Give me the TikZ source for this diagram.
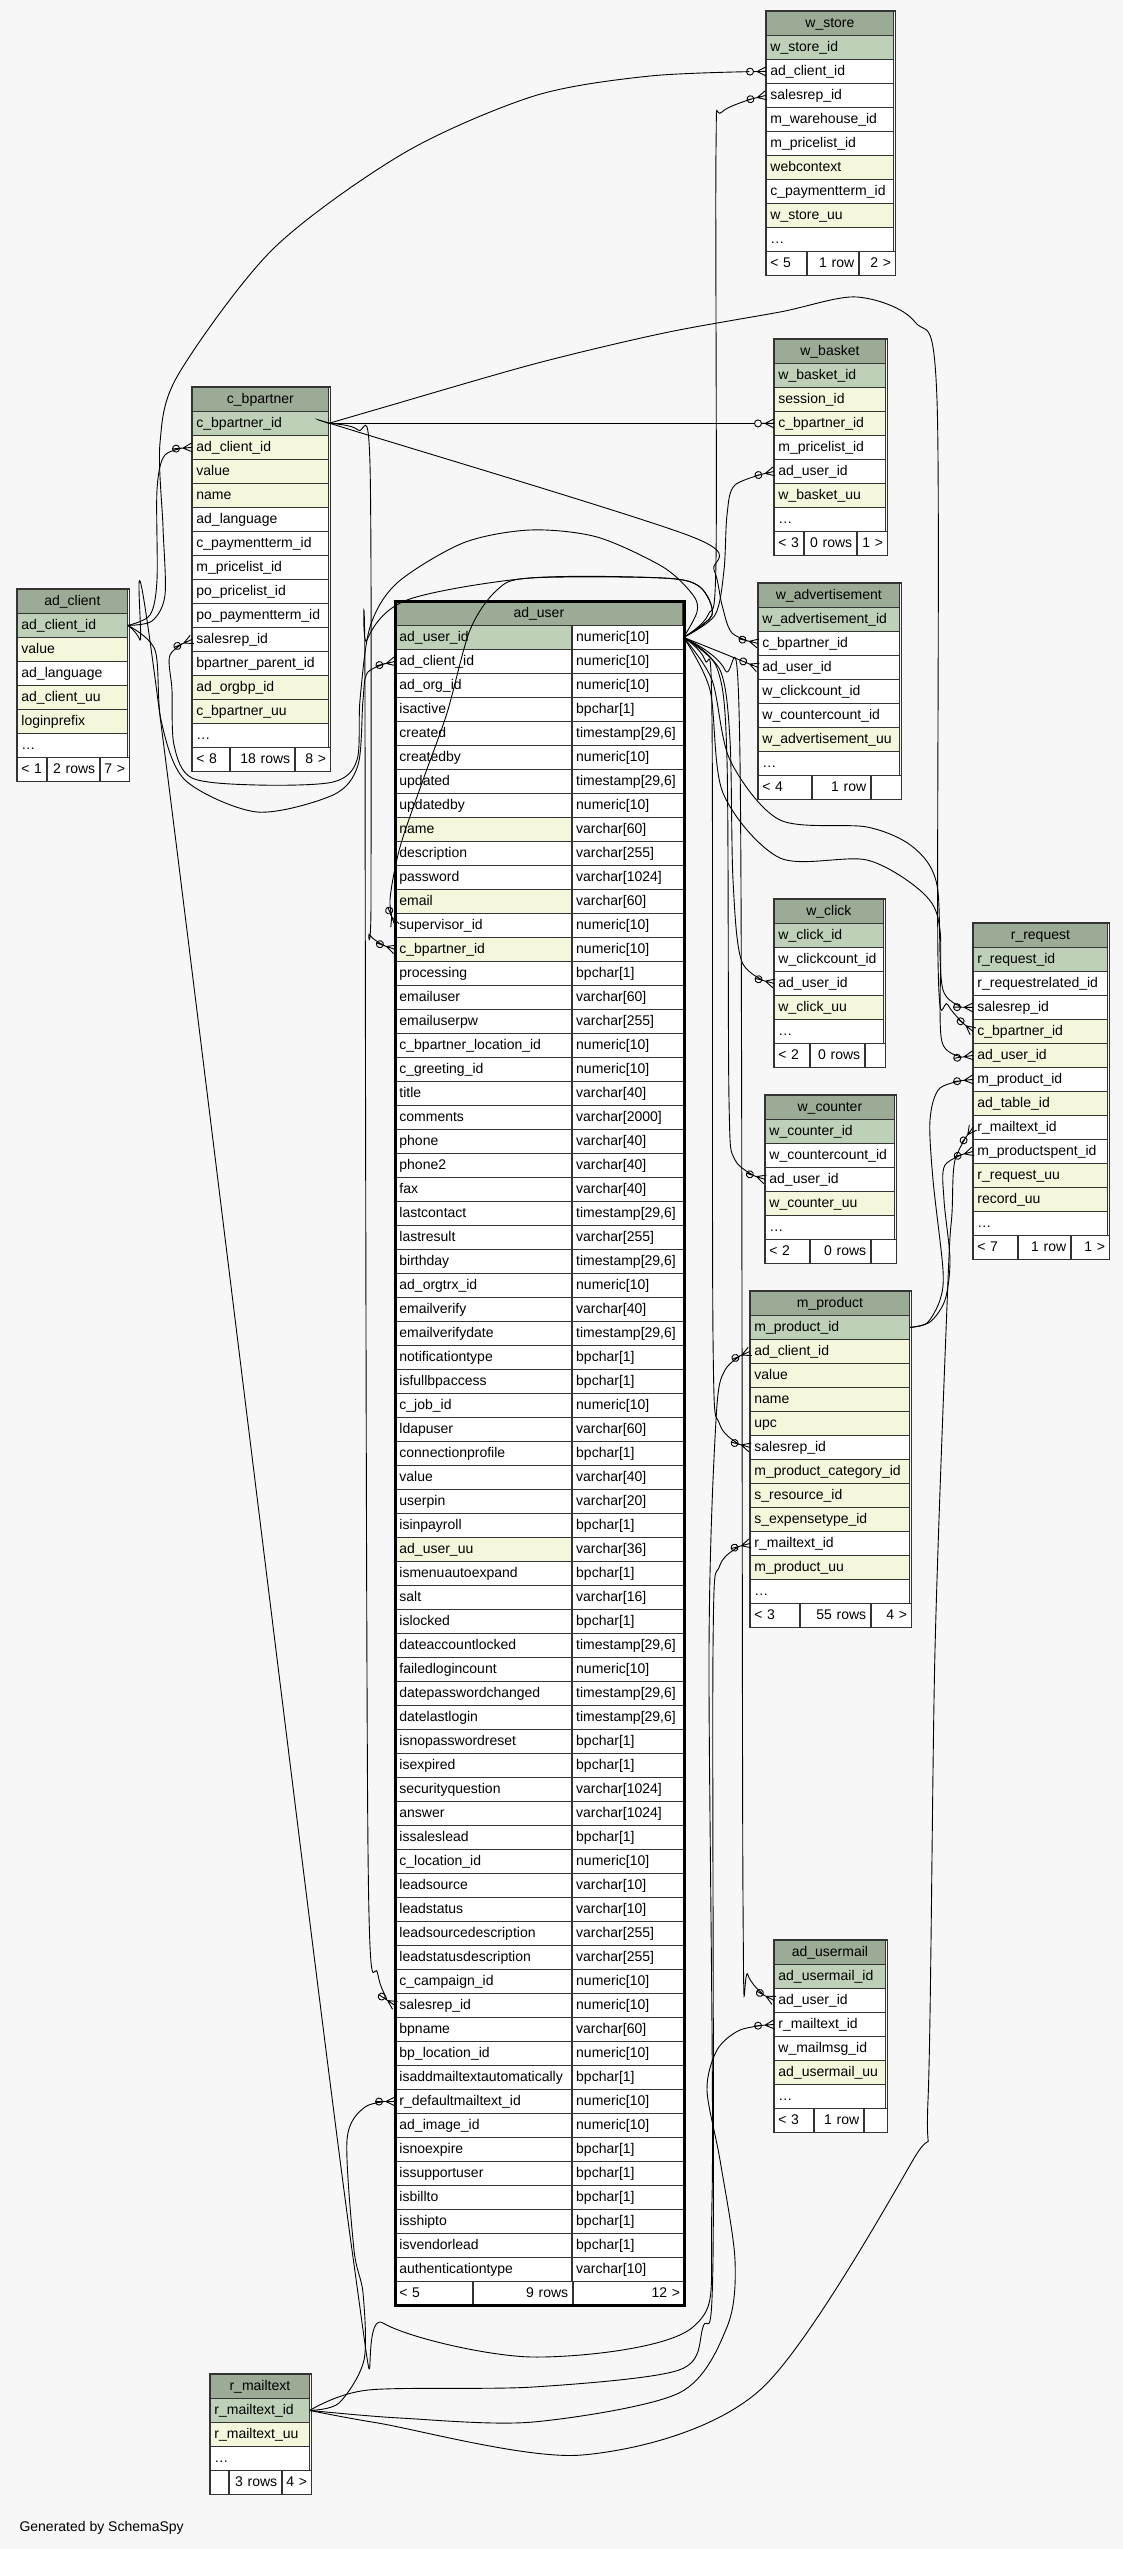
\documentclass[tikz,border=0pt]{standalone}
\usepackage{fontspec}
\setmainfont{Liberation Sans}
\usepackage{tikz}
\usetikzlibrary{positioning}

\definecolor{schemabg}{HTML}{F7F7F7}
\definecolor{headcol}{HTML}{9BAB96}
\definecolor{pkcol}{HTML}{BED1B8}
\definecolor{idxcol}{HTML}{F4F7DC}

% open circle and crow's foot at the child end of a key
\pgfdeclarearrow{
    name = crowodot,
    setup code = {
        \pgfarrowssettipend{0pt}
        \pgfarrowssetlineend{-19.5pt}
        \pgfarrowssetbackend{-19.5pt}
        \pgfarrowsupperhullpoint{0pt}{4.5pt}
        \pgfarrowsupperhullpoint{-19.5pt}{3.5pt}
    },
    drawing code = {
        \pgfsetdash{}{0pt}
        \pgfpathmoveto{\pgfpoint{-12.5pt}{0pt}}
        \pgfpathlineto{\pgfpoint{0pt}{0pt}}
        \pgfpathmoveto{\pgfpoint{0pt}{4.5pt}}
        \pgfpathlineto{\pgfpoint{-9pt}{0pt}}
        \pgfpathlineto{\pgfpoint{0pt}{-4.5pt}}
        \pgfusepathqstroke
        \pgfpathcircle{\pgfpoint{-16pt}{0pt}}{3.5pt}
        \pgfusepathqstroke
    }
}

\tikzset{
    tbl/.style={draw=black!80, line width=0.8pt, inner xsep=4pt, inner ysep=0pt, minimum height=24pt, text height=11pt, text depth=2pt, font=\fontsize{14}{16}\selectfont, anchor=north west},
    tblhead/.style={tbl, fill=headcol, align=center},
    tblrow/.style={tbl, fill=white, align=left},
    tblfoot/.style={tbl, fill=white, align=right},
    fk/.style={line width=0.9pt, arrows=-crowodot},
}

% table: name, x, y (top left), width, title, rows as text/colour
\newcommand{\dbtable}[6]{%
    \pgfmathsetmacro{\tw}{#4-8}
    \node[tblhead, minimum width=#4pt, text width=\tw pt] (#1-0) at (#2,#3) {#5};
    \foreach \txt/\col [count=\i] in {#6} {
        \node[tblrow, fill=\col, minimum width=#4pt, text width=\tw pt] (#1-\i) at (#2,{#3+24*\i}) {\txt};
    }
}

% footer row: name, x, y, three widths, three texts
\newcommand{\dbfoot}[9]{%
    \pgfmathsetmacro{\twa}{#4-8}\pgfmathsetmacro{\twb}{#5-8}\pgfmathsetmacro{\twc}{#6-8}
    \node[tblrow, minimum width=#4pt, text width=\twa pt] (#1-fa) at (#2,#3) {#7};
    \node[tblfoot, minimum width=#5pt, text width=\twb pt, right=0pt of #1-fa] (#1-fb) {#8};
    \node[tblfoot, minimum width=#6pt, text width=\twc pt, right=0pt of #1-fb] (#1-fc) {#9};
    \draw[line width=1.2pt, draw=black!80] (#1-0.north west) rectangle (#1-fc.south east);
}

\begin{document}
\begin{tikzpicture}[x=1pt, y=-1pt]
    \useasboundingbox (0,0) rectangle (1123,2549);
    \fill[schemabg] (0,0) rectangle (1123,2549);

    \dbtable{adclient}{17}{589}{110}{ad\_client}{ad\_client\_id/pkcol, value/idxcol, ad\_language/white, ad\_client\_uu/idxcol, loginprefix/idxcol, {\ldots}/white}
    \dbfoot{adclient}{17}{757}{29}{52}{29}{< 1}{2 rows}{7 >}

    \dbtable{cbpartner}{192}{387}{136}{c\_bpartner}{c\_bpartner\_id/pkcol, ad\_client\_id/idxcol, value/idxcol, name/idxcol, ad\_language/white, c\_paymentterm\_id/white, m\_pricelist\_id/white, po\_pricelist\_id/white, po\_paymentterm\_id/white, salesrep\_id/white, bpartner\_parent\_id/white, ad\_orgbp\_id/idxcol, c\_bpartner\_uu/idxcol, {\ldots}/white}
    \dbfoot{cbpartner}{192}{747}{37}{64}{35}{< 8}{18 rows}{8 >}

    \dbtable{wstore}{766}{11}{127}{w\_store}{w\_store\_id/pkcol, ad\_client\_id/white, salesrep\_id/white, m\_warehouse\_id/white, m\_pricelist\_id/white, webcontext/idxcol, c\_paymentterm\_id/white, w\_store\_uu/idxcol, {\ldots}/white}
    \dbfoot{wstore}{766}{251}{40}{51}{36}{< 5}{1 row}{2 >}

    \dbtable{wbasket}{774}{339}{111}{w\_basket}{w\_basket\_id/pkcol, session\_id/idxcol, c\_bpartner\_id/idxcol, m\_pricelist\_id/white, ad\_user\_id/white, w\_basket\_uu/idxcol, {\ldots}/white}
    \dbfoot{wbasket}{774}{531}{29}{52}{30}{< 3}{0 rows}{1 >}

    \dbtable{wadvert}{758}{583}{141}{w\_advertisement}{w\_advertisement\_id/pkcol, c\_bpartner\_id/white, ad\_user\_id/white, w\_clickcount\_id/white, w\_countercount\_id/white, w\_advertisement\_uu/idxcol, {\ldots}/white}
    \dbfoot{wadvert}{758}{775}{53}{58}{30}{< 4}{1 row}{}

    \dbtable{wclick}{774}{899}{109}{w\_click}{w\_click\_id/pkcol, w\_clickcount\_id/white, ad\_user\_id/white, w\_click\_uu/idxcol, {\ldots}/white}
    \dbfoot{wclick}{774}{1043}{35}{54}{20}{< 2}{0 rows}{}

    \dbtable{wcounter}{765}{1095}{129}{w\_counter}{w\_counter\_id/pkcol, w\_countercount\_id/white, ad\_user\_id/white, w\_counter\_uu/idxcol, {\ldots}/white}
    \dbfoot{wcounter}{765}{1239}{44}{60}{25}{< 2}{0 rows}{}

    \dbtable{rrequest}{973}{923}{134}{r\_request}{r\_request\_id/pkcol, r\_requestrelated\_id/white, salesrep\_id/white, c\_bpartner\_id/idxcol, ad\_user\_id/idxcol, m\_product\_id/white, ad\_table\_id/idxcol, r\_mailtext\_id/white, m\_productspent\_id/white, r\_request\_uu/idxcol, record\_uu/idxcol, {\ldots}/white}
    \dbfoot{rrequest}{973}{1235}{44}{52}{38}{< 7}{1 row}{1 >}

    \dbtable{mproduct}{750}{1291}{159}{m\_product}{m\_product\_id/pkcol, ad\_client\_id/idxcol, value/idxcol, name/idxcol, upc/idxcol, salesrep\_id/white, m\_product\_category\_id/idxcol, s\_resource\_id/idxcol, s\_expensetype\_id/idxcol, r\_mailtext\_id/white, m\_product\_uu/idxcol, {\ldots}/white}
    \dbfoot{mproduct}{750}{1603}{49}{70}{40}{< 3}{55 rows}{4 >}

    \dbtable{adusermail}{774}{1940}{111}{ad\_usermail}{ad\_usermail\_id/pkcol, ad\_user\_id/white, r\_mailtext\_id/white, w\_mailmsg\_id/white, ad\_usermail\_uu/idxcol, {\ldots}/white}
    \dbfoot{adusermail}{774}{2108}{39}{49}{23}{< 3}{1 row}{}

    \dbtable{rmailtext}{210}{2374}{99}{r\_mailtext}{r\_mailtext\_id/pkcol, r\_mailtext\_uu/idxcol, {\ldots}/white}
    \dbfoot{rmailtext}{210}{2470}{18}{52}{29}{}{3 rows}{4 >}

    % ad_user has a second column with the types
    \node[tblhead, minimum width=287pt, text width=279pt] (aduser-0) at (395,601) {ad\_user};
    \foreach \txt/\typ/\col [count=\i] in {ad\_user\_id/numeric[10]/pkcol, ad\_client\_id/numeric[10]/white, ad\_org\_id/numeric[10]/white, isactive/bpchar[1]/white, created/{timestamp[29,6]}/white, createdby/numeric[10]/white, updated/{timestamp[29,6]}/white, updatedby/numeric[10]/white, name/varchar[60]/idxcol, description/varchar[255]/white, password/varchar[1024]/white, email/varchar[60]/idxcol, supervisor\_id/numeric[10]/white, c\_bpartner\_id/numeric[10]/idxcol, processing/bpchar[1]/white, emailuser/varchar[60]/white, emailuserpw/varchar[255]/white, c\_bpartner\_location\_id/numeric[10]/white, c\_greeting\_id/numeric[10]/white, title/varchar[40]/white, comments/varchar[2000]/white, phone/varchar[40]/white, phone2/varchar[40]/white, fax/varchar[40]/white, lastcontact/{timestamp[29,6]}/white, lastresult/varchar[255]/white, birthday/{timestamp[29,6]}/white, ad\_orgtrx\_id/numeric[10]/white, emailverify/varchar[40]/white, emailverifydate/{timestamp[29,6]}/white, notificationtype/bpchar[1]/white, isfullbpaccess/bpchar[1]/white, c\_job\_id/numeric[10]/white, ldapuser/varchar[60]/white, connectionprofile/bpchar[1]/white, value/varchar[40]/white, userpin/varchar[20]/white, isinpayroll/bpchar[1]/white, ad\_user\_uu/varchar[36]/idxcol, ismenuautoexpand/bpchar[1]/white, salt/varchar[16]/white, islocked/bpchar[1]/white, dateaccountlocked/{timestamp[29,6]}/white, failedlogincount/numeric[10]/white, datepasswordchanged/{timestamp[29,6]}/white, datelastlogin/{timestamp[29,6]}/white, isnopasswordreset/bpchar[1]/white, isexpired/bpchar[1]/white, securityquestion/varchar[1024]/white, answer/varchar[1024]/white, issaleslead/bpchar[1]/white, c\_location\_id/numeric[10]/white, leadsource/varchar[10]/white, leadstatus/varchar[10]/white, leadsourcedescription/varchar[255]/white, leadstatusdescription/varchar[255]/white, c\_campaign\_id/numeric[10]/white, salesrep\_id/numeric[10]/white, bpname/varchar[60]/white, bp\_location\_id/numeric[10]/white, isaddmailtextautomatically/bpchar[1]/white, r\_defaultmailtext\_id/numeric[10]/white, ad\_image\_id/numeric[10]/white, isnoexpire/bpchar[1]/white, issupportuser/bpchar[1]/white, isbillto/bpchar[1]/white, isshipto/bpchar[1]/white, isvendorlead/bpchar[1]/white, authenticationtype/varchar[10]/white} {
        \node[tblrow, fill=\col, minimum width=176pt, text width=168pt] (aduser-\i) at (395,{601+24*\i}) {\txt};
        \node[tblrow, minimum width=111pt, text width=103pt, right=0pt of aduser-\i] (aduser-\i-t) {\typ};
    }
    \dbfoot{aduser}{395}{2281}{77}{99}{111}{< 5}{9 rows}{12 >}
    \draw[line width=3pt] (aduser-0.north west) rectangle (aduser-fc.south east);

    \node[font=\fontsize{14}{16}\selectfont, anchor=west] (credit) at (16,2528) {Generated by SchemaSpy};

    % foreign keys, parent key -> child column
    \draw[fk] plot[smooth, tension=0.5] coordinates {(adclient-1.east) (150,615) (157,580) (157,490) (165,455) (cbpartner-2.west)};
    \draw[fk] plot[smooth, tension=0.5] coordinates {(adclient-1.east) (152,621) (165,595) (163,527) (160,443) (178,375) (273,249) (404,153) (534,96) (650,76) (wstore-2.west)};
    \draw[fk] plot[smooth, tension=0.5] coordinates {(adclient-1.east) (155,650) (161,720) (185,780) (257,812) (333,795) (358,765) (363,700) (368,672) (aduser-2.west)};
    \draw[fk] plot[smooth, tension=0.5] coordinates {(adclient-1.east) (140,640) (157,693) (352,2250) (383,2323) (533,2357) (693,2327) (712,2200) (709,1650) (716,1420) (725,1370) (mproduct-2.west)};
    \draw[fk] (cbpartner-1.east) -- (wbasket-3.west);
    \draw[fk] plot[smooth, tension=0.5] coordinates {(cbpartner-1.east) (345,428) (690,536) (714,570) (722,605) (732,633) (wadvert-2.west)};
    \draw[fk] plot[smooth, tension=0.5] coordinates {(cbpartner-1.east) (358,430) (370,465) (371,900) (370,935) (aduser-14.west)};
    \draw[fk] plot[smooth, tension=0.5] coordinates {(cbpartner-1.east) (378,409) (534,364) (664,333) (780,312) (857,297) (915,322) (937,400) (938,960) (948,1005) (rrequest-4.west)};
    \draw[fk] plot[smooth, tension=0.5] coordinates {(aduser-1-t.east) (697,612) (693,595) (663,567) (597,537) (530,530) (463,543) (397,583) (370,627) (360,700) (357,760) (333,782) (257,785) (192,778) (174,745) (172,690) (170,655) (cbpartner-10.west)};
    \draw[fk] plot[smooth, tension=0.5] coordinates {(aduser-1-t.east) (708,615) (716,560) (716,150) (722,112) (wstore-3.west)};
    \draw[fk] plot[smooth, tension=0.5] coordinates {(aduser-1-t.east) (715,615) (724,570) (727,515) (735,485) (wbasket-5.west)};
    \draw[fk] plot[smooth, tension=0.5] coordinates {(aduser-1-t.east) (720,652) (wadvert-3.west)};
    \draw[fk] plot[smooth, tension=0.5] coordinates {(aduser-1-t.east) (720,670) (730,740) (733,880) (742,962) (wclick-3.west)};
    \draw[fk] plot[smooth, tension=0.5] coordinates {(aduser-1-t.east) (717,668) (727,760) (729,1100) (735,1160) (wcounter-3.west)};
    \draw[fk] plot[smooth, tension=0.5] coordinates {(aduser-1-t.east) (712,680) (730,760) (780,820) (867,827) (913,847) (937,885) (943,990) (rrequest-3.west)};
    \draw[fk] plot[smooth, tension=0.5] coordinates {(aduser-1-t.east) (710,690) (723,793) (780,858) (867,860) (923,893) (940,930) (942,1042) (rrequest-5.west)};
    \draw[fk] plot[smooth, tension=0.5] coordinates {(aduser-1-t.east) (705,660) (712,720) (713,1337) (720,1425) (mproduct-6.west)};
    \draw[fk] plot[smooth, tension=0.5] coordinates {(aduser-1-t.east) (725,670) (740,760) (743,1900) (748,1975) (adusermail-2.west)};
    \draw[fk] plot[smooth, tension=0.5] coordinates {(aduser-1-t.east) (712,615) (700,587) (663,578) (530,578) (497,590) (470,630) (447,713) (423,780) (400,847) (390,900) (aduser-13.west)};   % supervisor, crosses the table
    \draw[fk] plot[smooth, tension=0.5] coordinates {(aduser-1-t.east) (712,615) (700,587) (663,578) (530,578) (407,600) (367,640) (365,700) (368,1850) (378,1975) (aduser-58.west)};
    \draw[fk] plot[smooth, tension=0.5] coordinates {(mproduct-1.east) (927,1323) (940,1300) (943,1270) (933,1180) (930,1120) (940,1088) (rrequest-6.west)};
    \draw[fk] plot[smooth, tension=0.5] coordinates {(mproduct-1.east) (930,1322) (945,1300) (950,1260) (944,1200) (945,1165) (rrequest-9.west)};
    \draw[fk] plot[smooth, tension=0.5] coordinates {(rmailtext-1.east) (339,2403) (364,2360) (363,2293) (354,2250) (347,2140) (365,2107) (aduser-62.west)};
    \draw[fk] plot[smooth, tension=0.5] coordinates {(rmailtext-1.east) (368,2390) (533,2387) (679,2370) (703,2327) (713,2260) (713,1650) (720,1565) (mproduct-10.west)};
    \draw[fk] plot[smooth, tension=0.5] coordinates {(rmailtext-1.east) (400,2418) (533,2422) (679,2393) (727,2327) (735,2260) (720,2160) (707,2090) (717,2050) (740,2030) (adusermail-3.west)};
    \draw[fk] plot[smooth, tension=0.5] coordinates {(rmailtext-1.east) (378,2423) (582,2455) (760,2390) (913,2160) (928,2100) (935,1650) (948,1280) (952,1213) (955,1160) (rrequest-8.west)};
\end{tikzpicture}
\end{document}
